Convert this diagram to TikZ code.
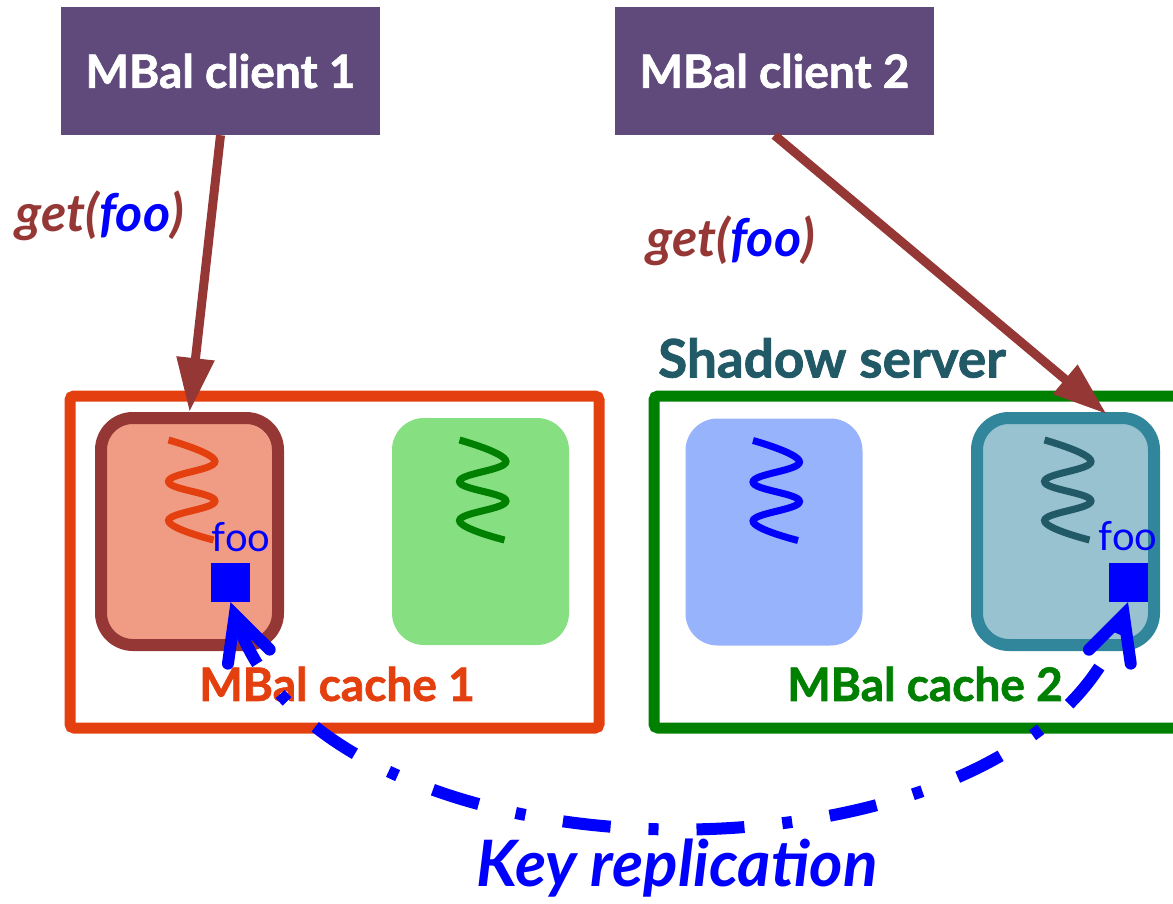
\documentclass[tikz,border=0pt]{standalone}
\usepackage{fontspec}
\setmainfont{Lato}[BoldFeatures={FakeBold=1.5}]
\usetikzlibrary{arrows.meta,calc}
\definecolor{cPurple}{HTML}{604A7B}
\definecolor{cBrown}{HTML}{953735}
\definecolor{cOrange}{HTML}{E4400F}
\definecolor{cSalmon}{HTML}{F09C84}
\definecolor{cGreenFill}{HTML}{86E082}
\definecolor{cDarkGreen}{HTML}{008000}
\definecolor{cBlueFill}{HTML}{97B3FC}
\definecolor{cTeal}{HTML}{31869B}
\definecolor{cTealFill}{HTML}{98C2CF}
\definecolor{cDarkTeal}{HTML}{215967}
\begin{document}
\begin{tikzpicture}[x=1pt,y=-1pt,
  client/.style={fill=cPurple, minimum width=319, minimum height=128, inner sep=0pt,
    text=white, font=\fontsize{46}{52}\selectfont\bfseries},
  outerbox/.style={line width=11, rounded corners=4, minimum height=332, inner sep=0pt},
  vmbox/.style={rounded corners=32, minimum width=177, minimum height=227, inner sep=0pt},
  getarrow/.style={draw=cBrown, line width=9, -{Triangle[length=54pt,width=36pt]}},
  getlabel/.style={text=cBrown, font=\fontsize{52}{58}\selectfont\bfseries\itshape},
  cachelabel/.style={font=\fontsize{46}{52}\selectfont\bfseries},
  keylabel/.style={text=blue, font=\fontsize{40}{46}\selectfont},
  keysq/.style={fill=blue, minimum size=39, inner sep=0pt},
  repl/.style={draw=blue, line width=12, dash pattern=on 48pt off 38pt on 10pt off 38pt,
    {Straight Barb[length=44pt,width=44pt,line cap=round]}-{Straight Barb[length=44pt,width=44pt,line cap=round]}},
  coil/.pic={\draw[pic actions, line width=7] plot[smooth, tension=0.75] coordinates
    {(-21,-91.5) (25.5,-70) (-21,-50) (25.5,-30.5) (-21,-11) (24,8.5)};}
]
\useasboundingbox (0,0) rectangle (1173,904);
\clip (0,0) rectangle (1173,904);

% clients
\node[client] (c1) at (220.5,71) {MBal client 1};
\node[client] (c2) at (774.5,71) {MBal client 2};

% cache servers
\node[outerbox, draw=cOrange, minimum width=529] (o1) at (334.5,562) {};
\node[outerbox, draw=cDarkGreen, minimum width=536] (o2) at (922,562) {};

% VMs
\node[vmbox, draw=cBrown, line width=12, fill=cSalmon] (b1) at (189.5,531.5) {};
\node[vmbox, fill=cGreenFill] (b2) at (480.5,531.5) {};
\node[vmbox, fill=cBlueFill] (b3) at (774,532) {};
\node[vmbox, draw=cTeal, line width=12, fill=cTealFill] (b4) at (1065.5,531.5) {};

% coils
\pic[draw=cOrange] at (b1.center) {coil};
\pic[draw=cDarkGreen] at (b2.center) {coil};
\pic[draw=blue] at (b3.center) {coil};
\pic[draw=cDarkTeal] at (b4.center) {coil};

% keys
\node[keylabel] (k1) at (241,537) {foo};
\node[keylabel] (k2) at (1128,536) {foo};
\node[keysq] (s1) at (230.5,582.5) {};
\node[keysq] (s2) at (1128,582.5) {};

% labels
\node[cachelabel, text=cOrange] (l1) at (337,684) {MBal cache 1};
\node[cachelabel, text=cDarkGreen] (l2) at (925,684) {MBal cache 2};
\node[cachelabel, text=cDarkTeal, font=\fontsize{53}{58}\selectfont\bfseries] (l3) at (832,358) {Shadow server};
\node[getlabel] (g1) at (100,216) {get(\textcolor{blue}{foo})};
\node[getlabel] (g2) at (731,241) {get(\textcolor{blue}{foo})};
\node[text=blue, font=\fontsize{64}{70}\selectfont\bfseries\itshape] (kr) at (677,868) {Key replication};

% arrows
\coordinate (t2) at ($(b4.north)+(41,2)$);
\draw[getarrow] (c1.south) -- (b1.north);
\draw[getarrow] (c2.south) -- (t2);
\draw[repl] (s1.south) .. controls +(100,297) and +(-99,297) .. (s2.south);
\end{tikzpicture}
\end{document}
